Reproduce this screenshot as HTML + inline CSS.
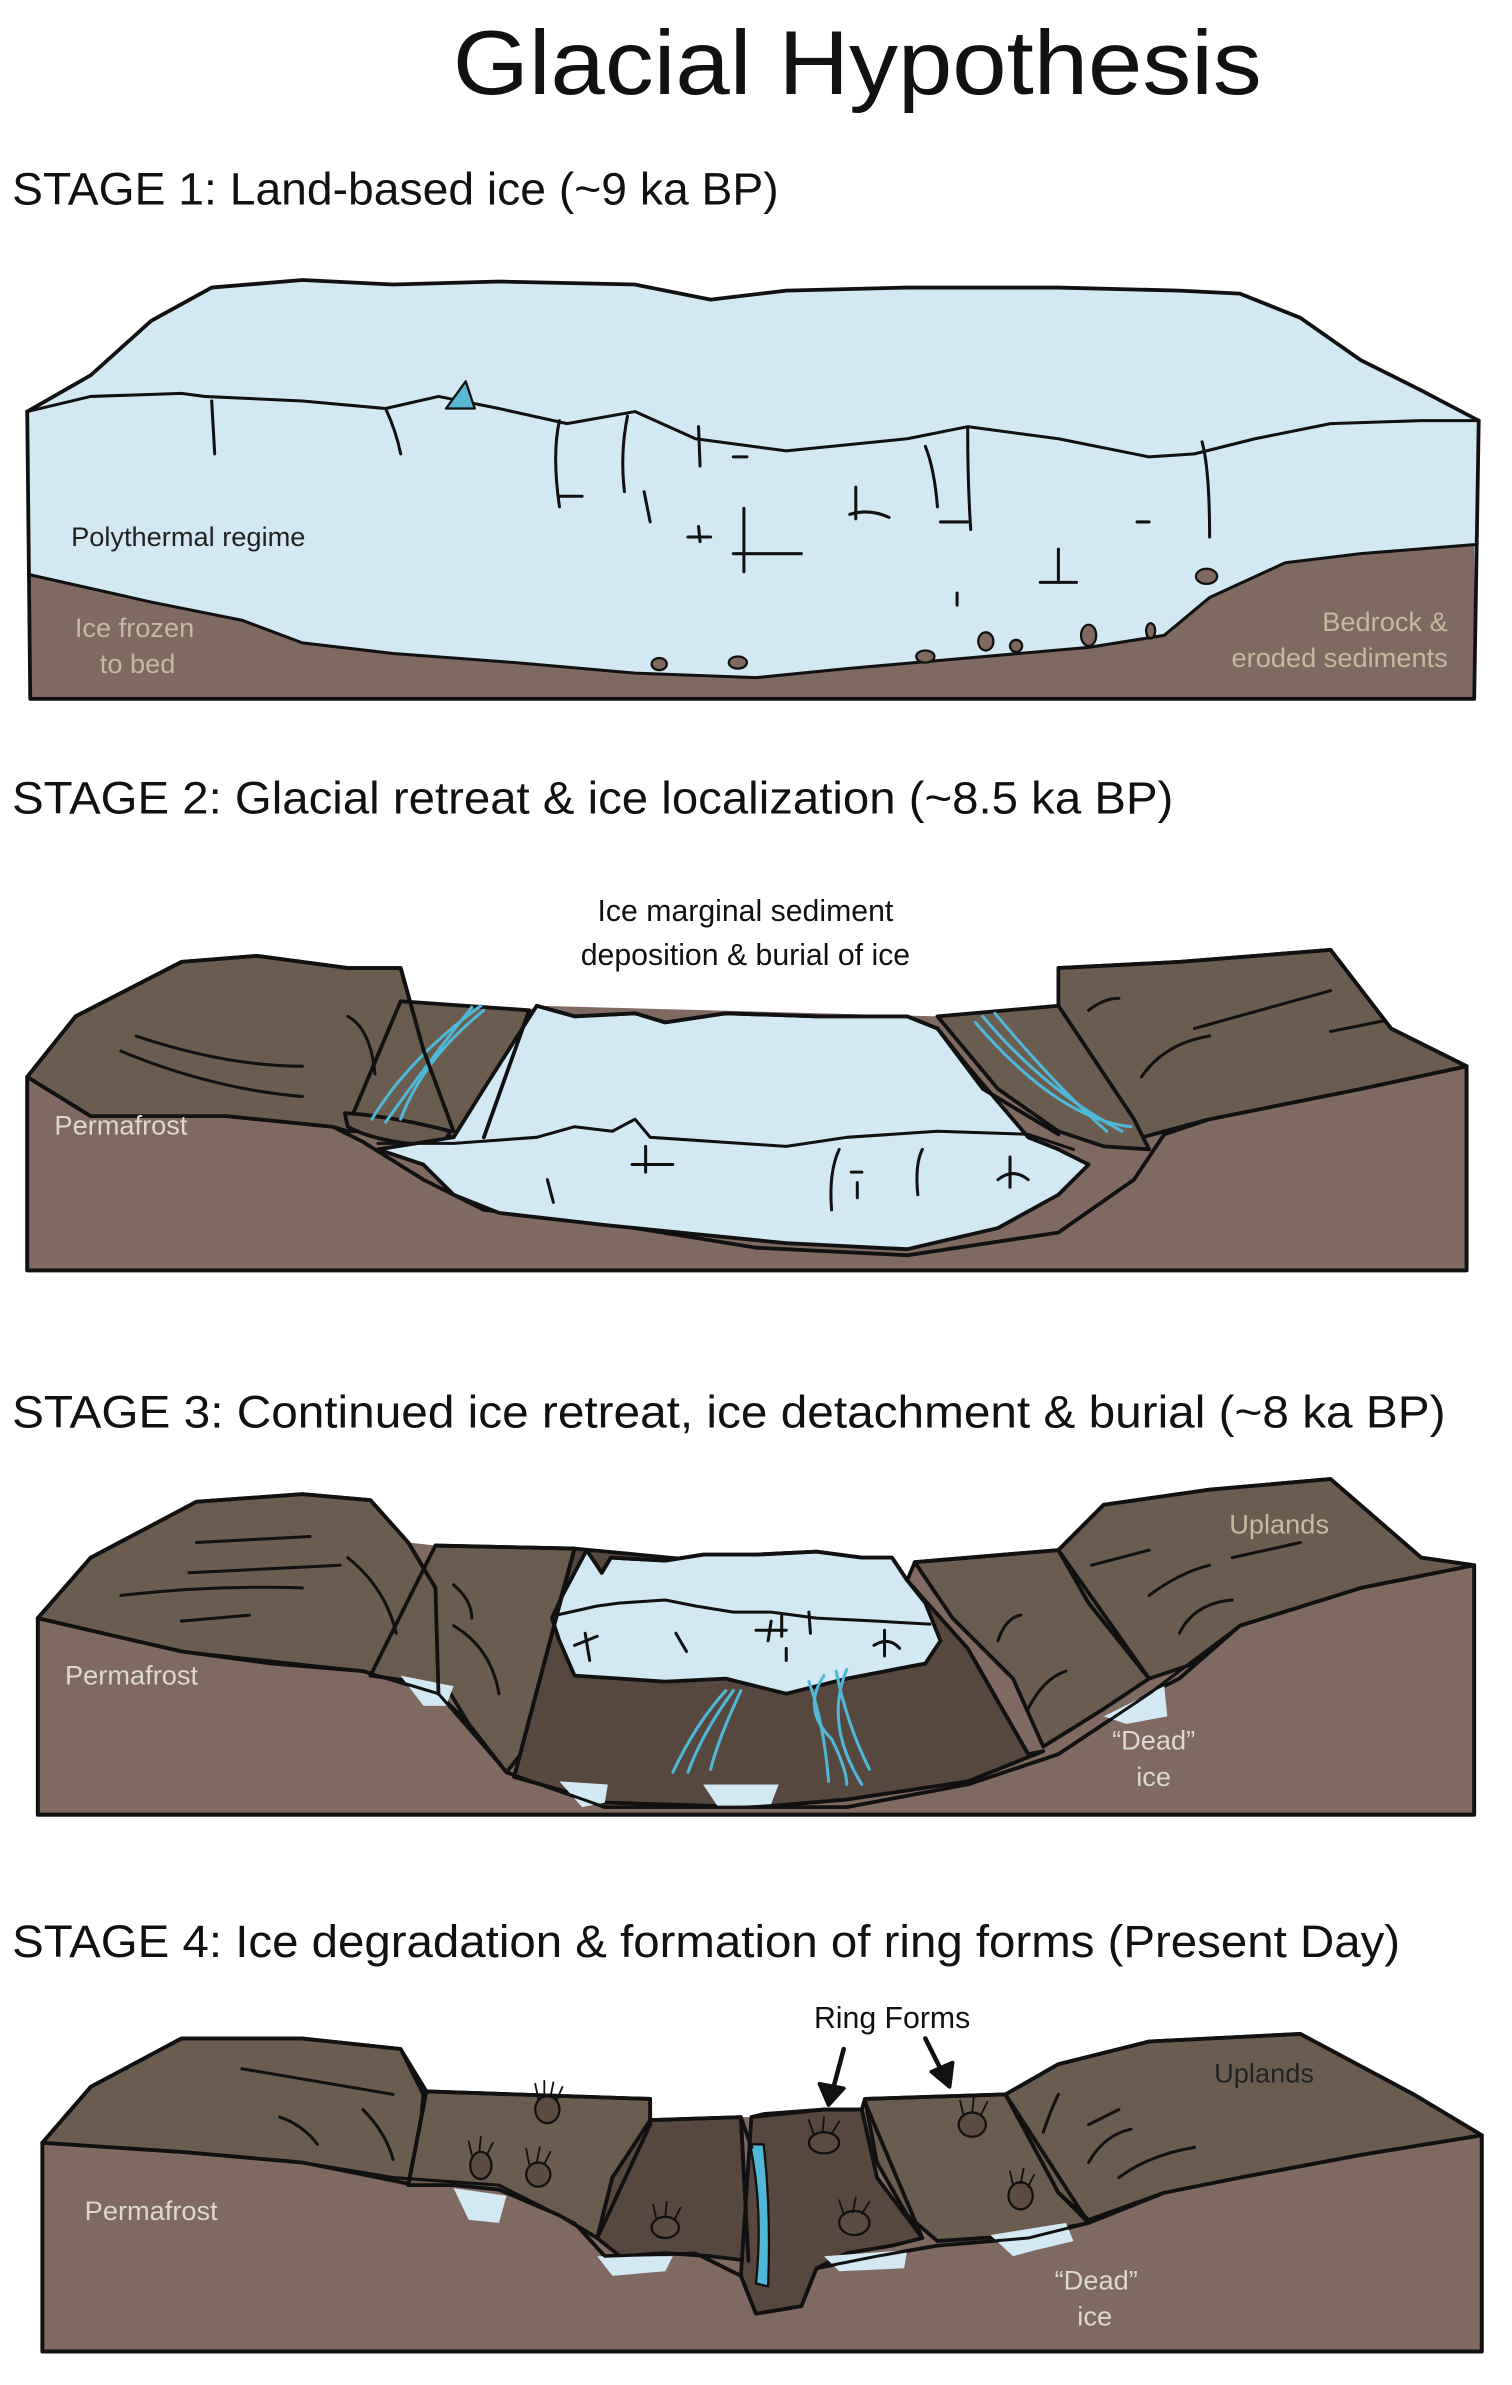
<!DOCTYPE html>
<html><head><meta charset="utf-8"><style>
html,body{margin:0;padding:0;background:#fff;}
svg{display:block;}
text{font-family:"Liberation Sans",sans-serif;}
</style></head><body>
<svg width="1512" height="2385" viewBox="0 0 1000 1577" xmlns="http://www.w3.org/2000/svg">
<g stroke="#111" stroke-width="2.5" stroke-linejoin="round" stroke-linecap="round">

<!-- ================= STAGE 1 ================= -->
<path d="M18 272 L60 248 L100 212 L140 190 L200 185 L260 188 L330 186 L420 188 L470 198 L520 192 L600 190 L700 190 L780 192 L820 194 L860 210 L900 238 L940 258 L978 278 L975 462 L20 462 Z" fill="#d2e8f2" stroke="none"/>
<path d="M18 272 L60 248 L100 212 L140 190 L200 185 L260 188 L330 186 L420 188 L470 198 L520 192 L600 190 L700 190 L780 192 L820 194 L860 210 L900 238 L940 258 L978 278" fill="none"/>
<path d="M18 272 L60 262 L120 260 L135 262 L200 265 L255 270 L290 262 L330 270 L375 280 L420 272 L460 290 L520 298 L600 290 L640 282 L700 290 L760 302 L790 300 L830 290 L880 280 L940 278 L978 278" fill="none" stroke-width="2"/>
<path d="M20 380 L100 398 L160 410 L200 425 L260 432 L340 438 L420 445 L500 448 L560 442 L640 435 L720 428 L770 420 L800 395 L850 372 L900 366 L975 360 L975 462 L20 462 Z" fill="#7f6960" stroke="none"/>
<path d="M20 380 L100 398 L160 410 L200 425 L260 432 L340 438 L420 445 L500 448 L560 442 L640 435 L720 428 L770 420 L800 395 L850 372 L900 366 L975 360" fill="none" stroke-width="2"/>
<path d="M18 272 L20 462 L975 462 L978 278" fill="none"/>
<g fill="none" stroke-width="2">
<path d="M140 265 L142 300"/><path d="M255 270 Q262 285 265 300"/>
<path d="M370 278 Q365 300 370 335"/><path d="M415 275 Q410 300 413 325"/><path d="M462 282 L463 308"/>
<path d="M612 295 Q618 310 620 335"/><path d="M640 283 Q640 320 642 350"/><path d="M795 292 Q800 310 800 355"/>
<path d="M370 328 L385 328"/><path d="M426 325 L430 345"/><path d="M455 355 L470 355"/><path d="M462 348 L463 358"/>
<path d="M492 336 L492 378"/><path d="M485 366 L530 366"/><path d="M566 322 L566 343"/><path d="M562 340 Q575 336 588 342"/>
<path d="M622 345 L640 345"/><path d="M485 302 L494 302"/><path d="M752 345 L760 345"/><path d="M700 363 L700 385"/><path d="M688 385 L712 385"/><path d="M633 392 L633 400"/>
</g>
<path d="M295 270 L308 252 L314 270 Z" fill="#5ab7d6" stroke-width="1.5"/>
<g fill="#7f6960" stroke-width="1.5">
<ellipse cx="798" cy="381" rx="7" ry="5"/><ellipse cx="652" cy="424" rx="5" ry="6"/><ellipse cx="672" cy="427" rx="4" ry="4"/>
<ellipse cx="720" cy="420" rx="5" ry="7"/><ellipse cx="761" cy="417" rx="3" ry="5"/><ellipse cx="612" cy="434" rx="6" ry="4"/>
<ellipse cx="436" cy="439" rx="5" ry="4"/><ellipse cx="488" cy="438" rx="6" ry="4"/>
</g>

<!-- ================= STAGE 2 ================= -->
<path d="M18 712 L50 672 L120 636 L170 632 L230 640 L265 640 L265 662 L350 668 L355 665 L620 672 L700 665 L700 640 L780 636 L880 628 L920 680 L970 705 L970 840 L18 840 Z" fill="#7f6960" stroke="none"/>
<path d="M18 712 L18 840 L970 840 L970 705 L900 720 L800 740 L770 750 L750 780 L700 815 L600 830 L500 825 L420 812 L320 800 L280 780 L240 755 L220 745 L150 738 L60 738 Z" fill="#7f6960"/>
<path d="M18 712 L50 672 L120 636 L170 632 L230 640 L265 640 L280 694 L300 748 L230 748 L220 745 L150 738 L60 738 Z" fill="#6a5c4f"/>
<path d="M265 662 L350 668 L320 750 L300 752 L250 750 L232 740 Z" fill="#6a5c4f"/>
<path d="M228 736 Q260 738 298 748 L292 758 Q250 756 230 745 Z" fill="#6a5c4f"/>
<path d="M700 640 L780 636 L880 628 L920 680 L970 705 L900 720 L800 740 L770 748 L745 755 L735 720 L700 670 Z" fill="#6a5c4f"/>
<path d="M620 672 L700 665 L750 740 L760 760 L730 758 L700 748 L660 720 Z" fill="#6a5c4f"/>
<path d="M355 665 L380 672 L420 670 L440 676 L480 670 L540 672 L600 672 L620 680 L640 705 L680 752 L700 760 L720 770 L700 790 L660 812 L600 826 L520 822 L460 816 L400 810 L330 802 L300 790 L280 770 L250 760 L300 752 L320 720 Z" fill="#d2e8f2"/>
<path d="M355 665 L380 672 L420 670 L440 676 L480 670 L540 672 L600 672 L620 680" fill="none"/>
<path d="M250 756 L300 756 L355 752 L380 745 L405 748 L420 740 L430 752 L520 758 L560 752 L620 748 L680 750 L710 760" fill="none" stroke-width="2"/>
<path d="M350 668 L320 752" fill="none"/>
<path d="M620 680 L650 720 L700 750" fill="none"/>
<g fill="none" stroke-width="2">
<path d="M555 760 Q548 775 550 800"/><path d="M610 760 Q605 770 607 790"/><path d="M668 765 L668 785"/><path d="M660 780 Q670 772 680 780"/>
<path d="M427 758 L427 775"/><path d="M418 770 L445 770"/><path d="M563 775 L570 775"/><path d="M567 782 L567 792"/><path d="M362 780 L366 795"/>
<path d="M230 672 Q245 680 248 710"/><path d="M80 695 Q140 720 200 725"/><path d="M90 685 Q150 705 200 705"/>
<path d="M720 668 Q730 660 740 660"/><path d="M755 712 Q770 690 800 685"/><path d="M790 680 L880 655"/><path d="M880 682 L915 675"/>
</g>
<g fill="none" stroke="#4fb8d8" stroke-width="2">
<path d="M246 740 Q270 700 318 665"/><path d="M255 742 Q285 700 312 666"/><path d="M265 740 Q280 700 320 668"/>
<path d="M650 672 Q690 720 742 748"/><path d="M658 670 Q700 720 732 748"/><path d="M645 676 Q700 740 748 745"/>
</g>
<path d="M18 712 L50 672 L120 636 L170 632 L230 640 L265 640 L280 694 L300 748" fill="none"/>
<path d="M700 640 L780 636 L880 628 L920 680 L970 705" fill="none"/>
<path d="M18 712 L18 840 L970 840 L970 705" fill="none"/>

<!-- ================= STAGE 3 ================= -->
<path d="M25 1070 L60 1030 L130 993 L200 988 L245 992 L270 1020 L288 1022 L380 1024 L388 1025 L600 1045 L605 1033 L700 1025 L730 995 L800 985 L880 978 L940 1030 L975 1035 L975 1200 L25 1200 Z" fill="#7f6960" stroke="none"/>
<path d="M25 1070 L25 1200 L975 1200 L975 1035 L900 1050 L820 1075 L780 1110 L760 1120 L700 1160 L640 1180 L560 1195 L400 1195 L335 1172 L310 1140 L290 1120 L240 1105 L180 1100 L120 1092 Z" fill="#7f6960"/>
<path d="M25 1070 L60 1030 L130 993 L200 988 L245 992 L270 1020 L288 1050 L290 1120 L240 1105 L180 1100 L120 1092 Z" fill="#6a5c4f"/>
<path d="M288 1022 L380 1024 L370 1060 L360 1140 L335 1172 L310 1140 L295 1115 L245 1108 Z" fill="#6a5c4f"/>
<path d="M380 1024 L340 1175 L400 1192 L500 1195 L560 1190 L640 1178 L690 1158 L680 1160 L640 1090 L600 1045 Z" fill="#57483f"/>
<path d="M605 1033 L700 1025 L720 1060 L760 1110 L730 1130 L690 1155 L670 1110 L630 1070 Z" fill="#6a5c4f"/>
<path d="M700 1025 L730 995 L800 985 L880 978 L940 1030 L975 1035 L900 1050 L820 1075 L790 1100 L760 1110 L720 1060 Z" fill="#6a5c4f"/>
<path d="M388 1025 L398 1040 L404 1030 L440 1032 L465 1028 L500 1028 L540 1026 L570 1030 L590 1030 L600 1045 L612 1060 L622 1085 L612 1100 L560 1110 L520 1120 L480 1110 L440 1112 L380 1108 L370 1085 L365 1070 L372 1055 Z" fill="#d2e8f2"/>
<path d="M388 1025 L398 1040 L404 1030 L440 1032 L465 1028 L500 1028 L540 1026 L570 1030 L590 1030 L600 1045" fill="none"/>
<path d="M368 1068 L395 1062 L410 1060 L440 1058 L460 1062 L485 1066 L510 1066 L540 1070 L580 1072 L615 1074" fill="none" stroke-width="2"/>
<path d="M380 1108 L440 1112 L480 1110 L520 1120 L560 1110 L612 1100 L622 1085 L612 1060 L600 1045" fill="none" stroke-width="2"/>
<path d="M388 1025 L372 1055 L365 1070 L370 1085 L380 1108" fill="none" stroke-width="2"/>
<g fill="none" stroke-width="2">
<path d="M517 1068 L517 1082"/><path d="M535 1066 L536 1080"/><path d="M500 1078 L520 1078"/><path d="M510 1072 L508 1085"/><path d="M520 1090 L520 1098"/>
<path d="M380 1088 L395 1082"/><path d="M387 1080 L390 1098"/><path d="M447 1080 L454 1092"/><path d="M585 1078 L585 1095"/><path d="M578 1088 Q588 1082 595 1090"/>
<path d="M130 1020 L205 1016"/><path d="M125 1040 L225 1035"/><path d="M80 1055 Q140 1048 200 1050"/><path d="M120 1072 L165 1068"/><path d="M230 1030 Q255 1050 262 1080"/>
<path d="M300 1048 Q312 1058 312 1070"/><path d="M300 1075 Q325 1090 330 1120"/>
<path d="M660 1085 Q665 1070 675 1068"/><path d="M680 1130 Q690 1110 705 1105"/><path d="M722 1035 L760 1025"/><path d="M760 1055 Q780 1040 800 1035"/><path d="M780 1080 Q790 1060 815 1058"/><path d="M815 1030 L860 1020"/>
</g>
<g fill="none" stroke="#4fb8d8" stroke-width="2">
<path d="M480 1118 Q460 1140 445 1172"/><path d="M485 1118 Q465 1145 455 1172"/><path d="M490 1118 Q475 1150 470 1170"/>
<path d="M545 1108 Q530 1130 550 1150 Q560 1170 560 1180"/><path d="M553 1105 Q560 1140 575 1170"/><path d="M560 1104 Q545 1140 570 1180"/><path d="M535 1112 Q545 1140 548 1178"/>
</g>
<g fill="#d2e8f2" stroke="none">
<path d="M265 1108 L300 1115 L295 1128 L280 1128 Z"/><path d="M370 1178 L402 1180 L400 1192 L385 1195 Z"/><path d="M465 1180 L515 1180 L510 1193 L475 1195 Z"/><path d="M730 1135 L770 1115 L772 1135 L745 1140 Z"/>
</g>
<path d="M25 1070 L60 1030 L130 993 L200 988 L245 992 L270 1020 L288 1050 L290 1120 M288 1022 L380 1024 M380 1024 L340 1175 M600 1045 L605 1033 L700 1025 L730 995 L800 985 L880 978 L940 1030 L975 1035 M700 1025 L760 1110 M640 1090 L680 1160" fill="none"/>
<path d="M25 1070 L120 1092 L240 1105 L290 1120 L335 1172 L400 1195 L560 1195 L640 1180 L700 1160 L760 1120 L820 1075 L900 1050 L975 1035" fill="none" stroke-width="2"/>
<path d="M25 1070 L25 1200 L975 1200 L975 1035" fill="none"/>

<!-- ================= STAGE 4 ================= -->
<path d="M28 1417 L60 1380 L120 1348 L200 1348 L265 1355 L282 1383 L430 1388 L430 1402 L490 1400 L497 1400 L545 1395 L570 1395 L572 1388 L665 1385 L700 1365 L760 1350 L860 1345 L935 1385 L980 1412 L980 1555 L28 1555 Z" fill="#7f6960" stroke="none"/>
<path d="M28 1417 L28 1555 L980 1555 L980 1412 L900 1425 L820 1440 L770 1450 L720 1470 L680 1480 L620 1485 L580 1492 L540 1500 L530 1525 L500 1530 L490 1505 L460 1490 L400 1492 L380 1470 L330 1445 L260 1440 L200 1430 L120 1423 Z" fill="#7f6960"/>
<path d="M28 1417 L60 1380 L120 1348 L200 1348 L265 1355 L280 1385 L275 1445 L200 1430 L120 1423 Z" fill="#6a5c4f"/>
<path d="M282 1383 L430 1388 L430 1405 L405 1440 L395 1480 L370 1465 L330 1448 L300 1445 L270 1445 Z" fill="#6a5c4f"/>
<path d="M430 1402 L490 1400 L495 1495 L470 1492 L440 1490 L410 1492 L395 1480 L405 1440 Z" fill="#57483f"/>
<path d="M497 1400 L505 1398 L545 1395 L570 1395 L580 1440 L610 1480 L590 1485 L560 1490 L540 1500 L530 1525 L500 1530 L490 1505 Z" fill="#57483f"/>
<path d="M572 1388 L665 1385 L700 1450 L720 1470 L680 1478 L650 1480 L620 1482 L600 1465 L580 1430 Z" fill="#6a5c4f"/>
<path d="M665 1385 L700 1365 L760 1350 L860 1345 L935 1385 L980 1412 L900 1425 L820 1440 L770 1450 L720 1468 L700 1450 Z" fill="#6a5c4f"/>
<path d="M496 1418 Q505 1460 500 1510 L508 1512 Q510 1460 505 1418 Z" fill="#4fb8d8" stroke-width="1.5"/>
<g fill="#d2e8f2" stroke="none">
<path d="M300 1447 L335 1452 L330 1470 L310 1468 Z"/><path d="M395 1492 L445 1492 L440 1502 L405 1505 Z"/><path d="M545 1492 L600 1488 L598 1500 L555 1502 Z"/><path d="M655 1478 L705 1470 L710 1482 L685 1488 L670 1492 Z"/>
</g>
<g fill="#5c4b40" stroke-width="1.5">
<ellipse cx="362" cy="1395" rx="8" ry="9"/><ellipse cx="318" cy="1432" rx="7" ry="9"/><ellipse cx="356" cy="1438" rx="8" ry="8"/>
<ellipse cx="440" cy="1473" rx="9" ry="7"/><ellipse cx="545" cy="1417" rx="10" ry="7"/><ellipse cx="565" cy="1470" rx="10" ry="8"/>
<ellipse cx="643" cy="1405" rx="9" ry="8"/><ellipse cx="675" cy="1452" rx="8" ry="9"/>
</g>
<g fill="none" stroke-width="1.2">
<path d="M356 1388 L354 1378 M360 1387 L360 1376 M364 1387 L366 1377 M368 1389 L372 1380"/>
<path d="M312 1425 L310 1416 M317 1423 L318 1413 M322 1425 L326 1417"/>
<path d="M350 1431 L348 1421 M355 1430 L357 1420 M360 1431 L364 1423"/>
<path d="M434 1467 L432 1458 M440 1466 L441 1456 M446 1468 L450 1460"/>
<path d="M538 1411 L535 1402 M544 1410 L545 1400 M550 1411 L555 1403"/>
<path d="M558 1464 L555 1455 M564 1463 L566 1453 M570 1464 L575 1456"/>
<path d="M637 1398 L635 1389 M643 1397 L644 1387 M649 1398 L653 1390"/>
<path d="M670 1445 L668 1436 M675 1444 L677 1434 M680 1446 L684 1438"/>
</g>
<g fill="none" stroke-width="2">
<path d="M160 1368 L260 1385"/><path d="M185 1400 Q200 1405 210 1418"/><path d="M240 1395 Q255 1410 260 1428"/>
<path d="M690 1410 Q695 1395 700 1385"/><path d="M720 1430 Q730 1412 748 1408"/><path d="M740 1440 Q760 1425 790 1420"/><path d="M720 1405 L740 1395"/>
</g>
<path d="M28 1417 L60 1380 L120 1348 L200 1348 L265 1355 L282 1383 L430 1388 L430 1405 M430 1402 L490 1400 L497 1420 M497 1400 L545 1395 L570 1395 L572 1388 L665 1385 L700 1365 L760 1350 L860 1345 L935 1385 L980 1412 M282 1383 L270 1445 M430 1405 L395 1480 M572 1390 L610 1480 M665 1385 L720 1470 M490 1400 L495 1495" fill="none"/>
<path d="M28 1417 L120 1423 L200 1430 L260 1440 L330 1445 L380 1470 L400 1492 L460 1490 L490 1505 L500 1530 L530 1525 L540 1500 L580 1492 L620 1485 L680 1480 L720 1470 L770 1450 L820 1440 L900 1425 L980 1412" fill="none" stroke-width="2"/>
<path d="M28 1417 L28 1555 L980 1555 L980 1412" fill="none"/>
<path d="M558 1355 L550 1385" fill="none" stroke-width="3"/>
<path d="M542 1378 L548 1392 L558 1381 Z" fill="#111"/>
<path d="M612 1348 L624 1372" fill="none" stroke-width="3"/>
<path d="M616 1370 L628 1380 L630 1364 Z" fill="#111"/>
</g>

<text x="567" y="62" font-size="60" text-anchor="middle" textLength="535" lengthAdjust="spacingAndGlyphs" fill="#111">Glacial Hypothesis</text>
<text x="8" y="135" font-size="30" textLength="507" lengthAdjust="spacingAndGlyphs" fill="#111">STAGE 1: Land-based ice (~9 ka BP)</text>
<text x="8" y="538" font-size="30" textLength="768" lengthAdjust="spacingAndGlyphs" fill="#111">STAGE 2: Glacial retreat &amp; ice localization (~8.5 ka BP)</text>
<text x="8" y="944" font-size="30" textLength="948" lengthAdjust="spacingAndGlyphs" fill="#111">STAGE 3: Continued ice retreat, ice detachment &amp; burial (~8 ka BP)</text>
<text x="8" y="1294" font-size="30" textLength="918" lengthAdjust="spacingAndGlyphs" fill="#111">STAGE 4: Ice degradation &amp; formation of ring forms (Present Day)</text>
<text x="47" y="361" font-size="18" fill="#222">Polythermal regime</text>
<text x="89" y="421" font-size="18" text-anchor="middle" fill="#c8b9a0">Ice frozen</text>
<text x="91" y="445" font-size="18" text-anchor="middle" fill="#c8b9a0">to bed</text>
<text x="916" y="417" font-size="18" text-anchor="middle" fill="#c8b9a0">Bedrock &amp;</text>
<text x="886" y="441" font-size="18" text-anchor="middle" fill="#c8b9a0">eroded sediments</text>
<text x="493" y="609" font-size="20" text-anchor="middle" fill="#111">Ice marginal sediment</text>
<text x="493" y="638" font-size="20" text-anchor="middle" fill="#111">deposition &amp; burial of ice</text>
<text x="36" y="750" font-size="18" fill="#ddd8d0">Permafrost</text>
<text x="43" y="1114" font-size="18" fill="#ddd8d0">Permafrost</text>
<text x="846" y="1014" font-size="18" text-anchor="middle" fill="#c8b9a0">Uplands</text>
<text x="763" y="1157" font-size="18" text-anchor="middle" fill="#ddd8d0">“Dead”</text>
<text x="763" y="1181" font-size="18" text-anchor="middle" fill="#ddd8d0">ice</text>
<text x="590" y="1341" font-size="20" text-anchor="middle" fill="#111">Ring Forms</text>
<text x="836" y="1377" font-size="18" text-anchor="middle" fill="#222">Uplands</text>
<text x="56" y="1468" font-size="18" fill="#ddd8d0">Permafrost</text>
<text x="725" y="1514" font-size="18" text-anchor="middle" fill="#ddd8d0">“Dead”</text>
<text x="724" y="1538" font-size="18" text-anchor="middle" fill="#ddd8d0">ice</text>
</svg>
</body></html>
